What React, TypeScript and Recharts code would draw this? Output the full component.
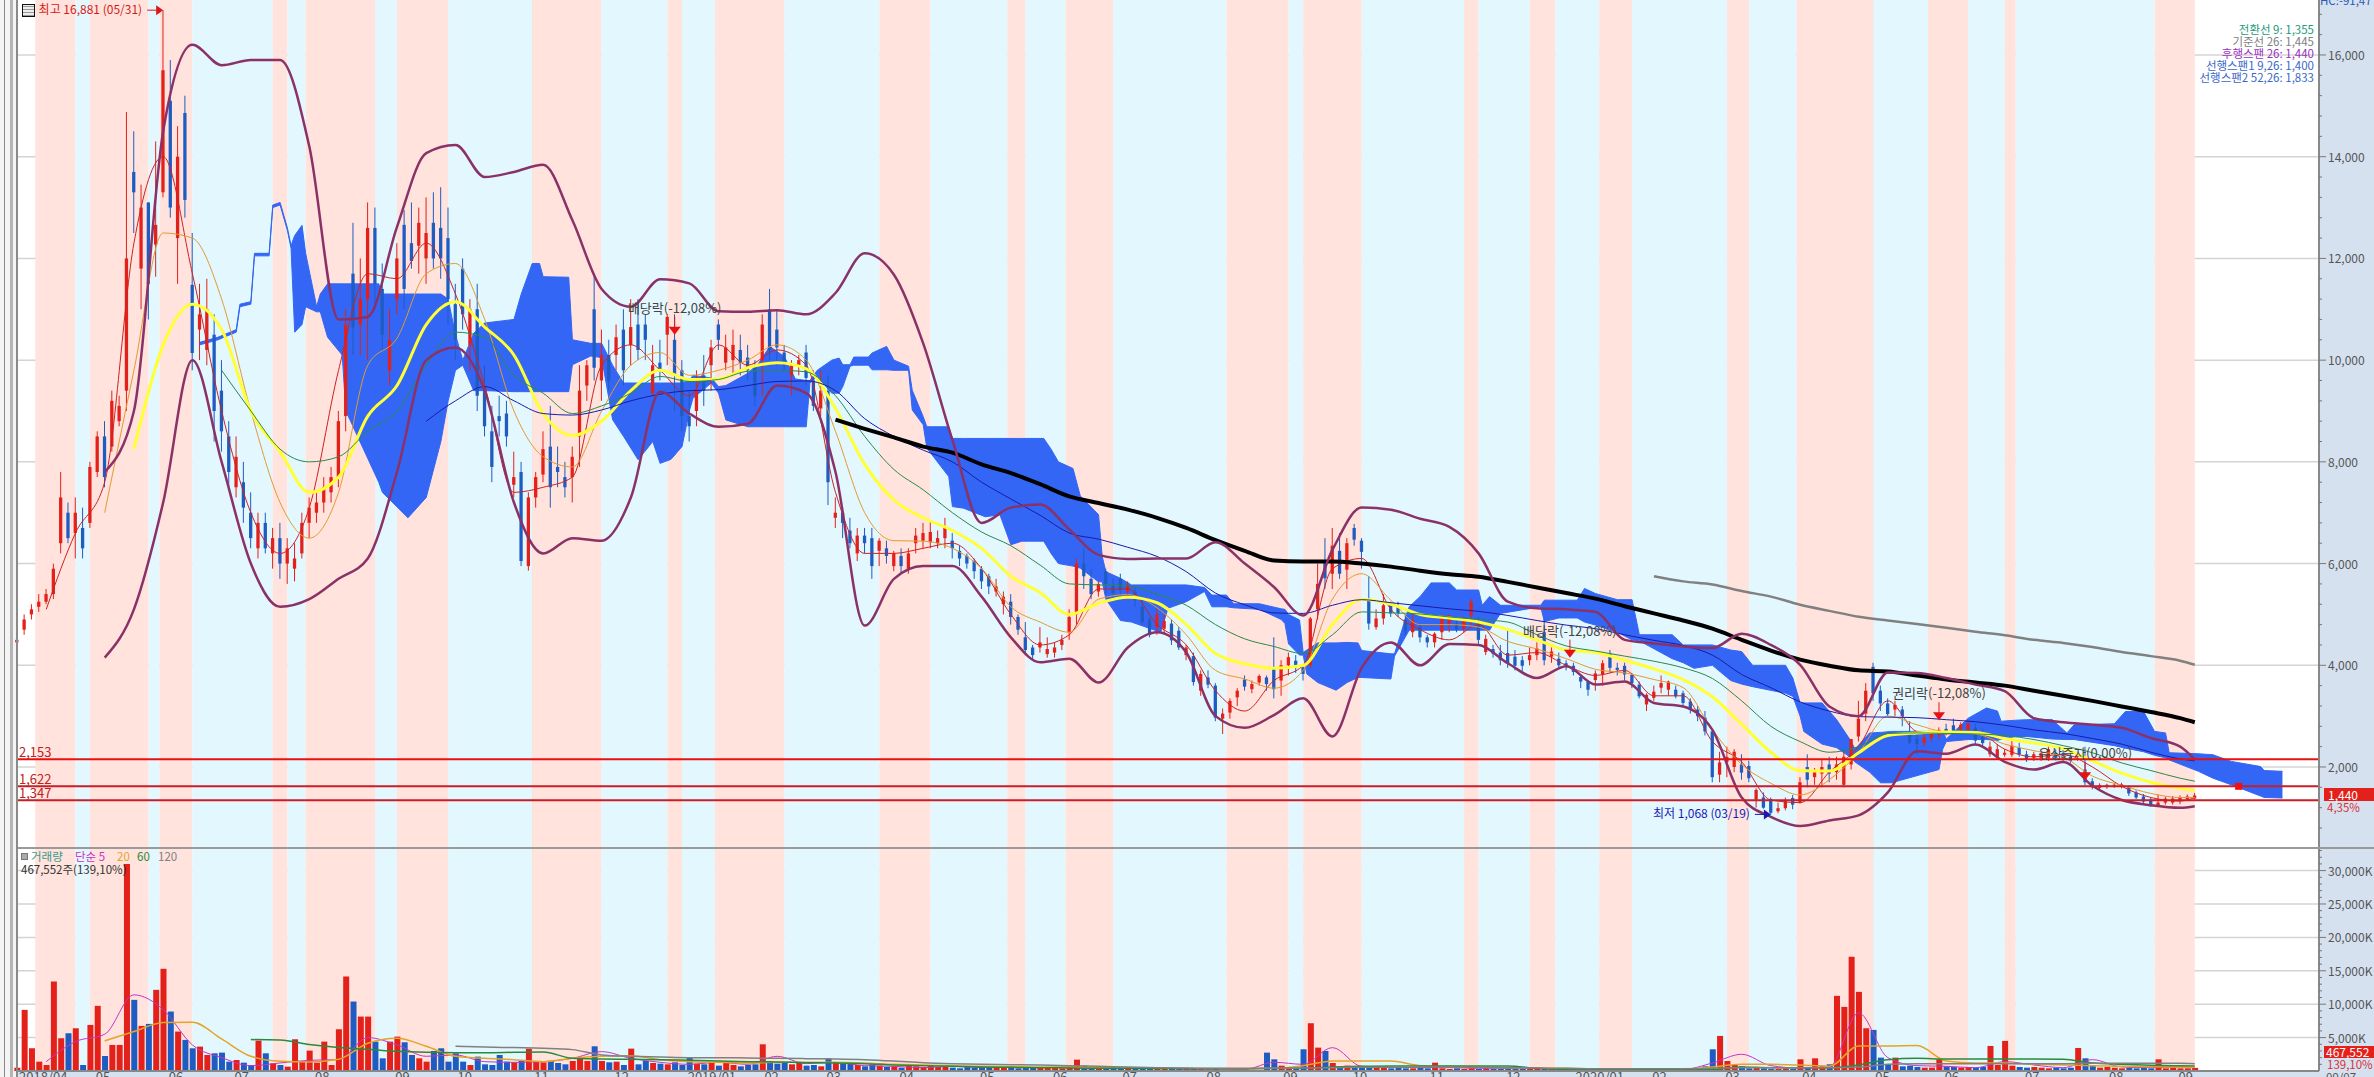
import {
  Area,
  Bar,
  CartesianGrid,
  Cell,
  ComposedChart,
  Line,
  ReferenceArea,
  ReferenceDot,
  ReferenceLine,
  XAxis,
  YAxis,
} from "recharts";

const n = null;

// trading days per month label
const monthDays = [0, 21, 41, 59, 81, 103, 120, 141, 163, 183, 204, 221, 241, 263, 283, 302, 325, 346, 365, 386, 407, 426, 447, 467, 488, 508, 527, 549, 572, 591];
const monthLabels = ["2018/04", "05", "06", "07", "08", "09", "10", "11", "12", "2019/01", "02", "03", "04", "05", "06", "07", "08", "09", "10", "11", "12", "2020/01", "02", "03", "04", "05", "06", "07", "08", "09"];

// red / blue phases, alternating, starts with red
const bandEdges = [5, 16, 20, 36, 39, 48, 70, 74, 79, 98, 104, 118, 141, 160, 178, 182, 191, 210, 236, 250, 271, 276, 287, 300, 331, 348, 352, 368, 396, 400, 414, 421, 433, 442, 468, 474, 487, 508, 523, 534, 544, 547, 585, 596];

// open, high, low, close, one row every 2 trading days
const candles = [
  [4450, 4700, 4200, 4500], [4700, 5000, 4600, 4900], [5000, 5200, 4900, 5100], [5150, 5400, 5050, 5250], [5250, 5500, 5200, 5400], [5400, 6000, 5300, 5900], [6400, 7800, 6200, 7300], [7000, 7200, 6400, 6500], [6600, 7300, 6100, 7000], [6700, 7100, 6100, 6300],
  [6800, 8000, 6700, 7900], [7800, 8600, 7700, 8500], [8500, 8800, 7500, 7700], [8300, 9400, 8200, 9200], [8800, 9300, 8700, 9100], [9400, 14880, 9000, 12000], [13700, 14500, 12500, 13300], [11800, 13450, 11000, 13000], [13100, 13100, 10800, 11500], [12270, 14300, 11640, 12660],
  [13300, 16881, 13200, 15700], [15100, 15900, 12800, 13000], [12400, 14600, 11500, 14000], [14860, 15200, 12800, 13150], [11480, 12500, 9800, 10140], [10600, 11500, 10000, 10900], [10200, 11600, 9900, 11000], [10500, 10900, 8400, 9000], [9400, 10000, 8200, 8600], [8500, 8800, 7500, 7800],
  [7500, 8500, 7300, 8100], [7600, 8000, 6800, 7100], [7000, 7400, 6300, 6500], [6300, 7000, 6100, 6800], [6800, 7000, 6200, 6300], [6200, 6700, 5900, 6500], [6500, 6800, 5700, 6000], [6000, 6500, 5600, 6300], [5900, 6400, 5650, 6100], [6200, 7000, 6100, 6800],
  [6800, 7300, 6500, 7100], [7000, 7400, 6800, 7200], [7200, 7700, 7000, 7500], [7400, 7900, 7200, 7700], [7700, 9000, 7500, 8800], [8900, 11000, 8600, 10700], [11700, 12700, 10100, 10650], [10700, 12000, 10100, 11200], [11200, 13100, 10000, 12600], [12600, 13000, 11000, 11500],
  [11400, 11900, 10200, 10500], [9800, 11000, 9500, 10400], [11200, 12300, 10900, 12000], [12660, 12950, 11000, 11400], [12300, 13100, 11800, 11950], [12250, 13000, 11700, 12700], [12000, 13200, 11500, 12500], [12700, 13300, 11800, 12000], [12600, 13400, 11600, 12000], [12400, 13000, 10700, 11200],
  [11100, 11500, 10000, 10400], [11800, 12000, 10600, 10900], [10300, 11200, 9800, 11000], [11000, 11500, 9000, 9300], [9400, 9900, 8500, 8700], [8600, 9100, 7600, 7900], [8900, 9300, 8500, 8800], [8950, 9200, 8300, 8500], [7550, 8200, 7300, 7700], [7800, 8000, 5950, 6050],
  [5950, 7400, 5860, 7300], [7300, 7800, 7100, 7700], [7750, 8600, 7600, 8250], [8300, 9100, 7100, 7500], [7900, 8300, 7500, 7800], [7700, 8000, 7300, 7500], [7700, 8300, 7200, 8100], [8500, 9900, 7900, 9400], [9500, 10000, 9200, 9900], [11000, 11700, 9600, 9850],
  [9600, 10600, 9200, 10100], [10100, 10400, 9400, 9600], [10100, 10700, 9800, 10450], [10600, 11000, 9500, 9800], [10300, 11200, 9900, 10650], [10700, 11200, 10000, 10200], [10700, 10900, 10000, 10400], [9350, 10300, 9300, 9900], [9950, 10400, 9600, 9800], [10500, 10900, 9900, 10850],
  [10400, 10900, 9000, 9700], [9800, 10000, 8600, 8900], [8900, 9400, 8400, 8700], [9000, 9800, 8700, 9400], [9700, 10100, 9100, 9400], [9900, 10400, 9400, 10250], [10700, 10800, 10200, 10400], [9950, 10500, 9800, 10250], [10000, 10600, 9700, 10300], [10200, 10500, 9700, 9950],
  [10050, 10300, 9600, 9800], [9900, 10000, 9100, 9300], [10000, 10900, 9300, 10700], [11000, 11400, 10000, 10200], [10600, 11000, 9900, 10250], [10150, 10300, 9800, 9900], [9700, 10000, 9300, 9900], [9900, 10100, 9700, 10000], [10150, 10300, 9500, 9650], [9600, 9800, 9000, 9100],
  [9050, 9800, 8900, 9400], [9400, 9700, 7150, 7600], [6900, 7300, 6700, 7000], [7000, 7100, 6500, 6800], [6650, 6900, 6300, 6400], [6200, 6700, 6050, 6550], [6550, 6700, 6200, 6400], [6500, 6700, 5700, 5950], [6250, 6500, 5950, 6450], [6300, 6450, 6000, 6150],
  [5950, 6250, 5850, 6200], [6150, 6300, 5800, 5950], [5900, 6300, 5800, 6200], [6400, 6700, 6200, 6550], [6450, 6800, 6300, 6600], [6420, 6850, 6300, 6620], [6400, 6650, 6300, 6500], [6500, 6900, 6300, 6700], [6450, 6600, 6100, 6300], [6250, 6350, 5950, 6100],
  [6150, 6200, 5900, 6000], [6050, 6100, 5700, 5850], [5900, 5950, 5500, 5650], [5750, 5800, 5400, 5550], [5450, 5700, 5350, 5550], [5200, 5450, 5000, 5350], [5250, 5400, 4800, 4950], [4950, 5000, 4600, 4700], [4550, 4850, 4200, 4300], [4350, 4400, 4100, 4200],
  [4350, 4750, 4250, 4450], [4220, 4550, 4150, 4320], [4250, 4450, 4150, 4350], [4400, 4600, 4300, 4500], [4650, 5100, 4500, 4950], [5000, 6100, 4800, 6000], [6000, 6300, 5500, 5750], [5700, 5900, 5300, 5400], [5450, 5650, 5350, 5600], [5850, 5900, 5400, 5600],
  [5580, 5700, 5300, 5420], [5700, 5800, 5400, 5480], [5450, 5650, 5350, 5570], [5450, 5550, 5150, 5280], [5150, 5350, 4800, 4850], [4900, 4950, 4550, 4600], [4750, 5100, 4600, 5000], [4720, 5000, 4600, 4870], [4820, 4900, 4400, 4490], [4680, 4750, 4300, 4350],
  [4200, 4400, 4100, 4350], [4180, 4250, 3600, 3670], [3500, 3900, 3400, 3830], [3760, 3900, 3550, 3620], [3600, 3650, 2900, 2970], [2950, 3150, 2650, 3050], [3070, 3350, 2950, 3300], [3370, 3550, 3200, 3500], [3720, 3800, 3500, 3580], [3530, 3700, 3450, 3630],
  [3660, 3820, 3600, 3790], [3760, 3800, 3500, 3630], [3950, 4550, 3350, 3530], [3700, 4100, 3400, 4000], [4000, 4250, 3800, 4160], [4090, 4200, 3850, 3960], [3960, 4000, 3700, 3830], [4000, 4950, 3950, 4920], [5100, 6000, 4900, 5600], [6040, 6500, 5500, 5710],
  [5800, 6700, 5500, 6350], [6250, 6600, 5700, 5800], [5880, 6500, 5500, 6400], [6700, 6780, 6350, 6470], [6450, 6500, 5900, 6230], [5300, 5750, 4700, 4820], [4750, 5100, 4700, 4920], [4920, 5400, 4800, 5180], [5200, 5250, 4950, 5020], [5150, 5250, 4950, 5020],
  [4900, 5000, 4600, 4680], [4650, 5000, 4550, 4880], [4750, 4800, 4450, 4550], [4550, 4600, 4350, 4450], [4450, 4650, 4350, 4620], [4650, 5000, 4500, 4950], [4820, 5000, 4650, 4980], [4820, 4900, 4650, 4700], [4720, 4950, 4650, 4880], [4980, 5300, 4800, 5250],
  [4820, 4950, 4400, 4500], [4260, 4600, 4200, 4520], [4320, 4400, 4150, 4230], [4250, 4400, 4000, 4100], [4240, 4700, 3950, 4040], [4170, 4300, 3900, 3990], [4100, 4180, 3880, 3990], [4100, 4350, 4000, 4200], [4200, 4450, 4100, 4330], [4650, 4900, 4000, 4100],
  [4170, 4350, 4050, 4270], [4130, 4250, 3950, 4000], [4040, 4100, 3900, 3970], [3990, 4050, 3800, 3870], [3770, 3800, 3550, 3680], [3680, 3700, 3400, 3520], [3710, 3900, 3500, 3840], [3820, 4100, 3600, 4040], [4230, 4300, 3850, 3950], [3950, 4050, 3800, 3910],
  [3990, 4050, 3700, 3820], [3810, 3850, 3550, 3650], [3620, 3680, 3350, 3390], [3230, 3450, 3100, 3420], [3360, 3600, 3300, 3480], [3560, 3800, 3450, 3650], [3520, 3700, 3400, 3680], [3520, 3600, 3350, 3390], [3450, 3500, 3200, 3260], [3290, 3350, 3050, 3130],
  [3130, 3200, 2900, 3000], [2970, 3100, 2620, 2700], [2700, 2720, 1700, 1800], [1850, 2300, 1700, 2090], [2100, 2400, 1800, 2200], [2000, 2350, 1900, 2300], [2050, 2250, 1750, 1890], [2020, 2120, 1700, 1780], [1360, 1580, 1200, 1550], [1400, 1500, 1180, 1200],
  [1370, 1400, 1068, 1100], [1130, 1300, 1090, 1190], [1190, 1400, 1150, 1330], [1390, 1450, 1170, 1260], [1300, 1800, 1280, 1700], [2000, 2250, 1600, 1750], [1800, 1980, 1650, 1900], [1870, 2150, 1600, 2000], [2050, 2200, 1700, 1870], [1900, 2200, 1750, 2050],
  [1650, 2300, 1600, 2200], [2050, 2550, 1950, 2550], [2600, 3300, 2500, 2950], [3050, 3650, 2900, 3500], [3970, 4050, 3300, 3450], [3500, 3600, 3100, 3250], [3250, 3350, 3000, 3040], [3130, 3300, 3000, 3220], [3130, 3200, 2800, 3000], [2700, 2900, 2450, 2480],
  [2550, 2700, 2250, 2450], [2470, 2650, 2400, 2580], [2570, 2700, 2500, 2670], [2640, 2780, 2550, 2730], [2750, 2850, 2620, 2650], [2820, 2950, 2650, 2700], [2740, 2880, 2700, 2830], [2730, 2900, 2650, 2860], [2770, 2850, 2450, 2520], [2600, 2750, 2400, 2470],
  [2250, 2500, 2200, 2400], [2200, 2450, 2150, 2350], [2240, 2350, 2200, 2280], [2240, 2520, 2200, 2420], [2380, 2480, 2200, 2250], [2250, 2320, 2100, 2150], [2180, 2300, 2120, 2250], [2180, 2300, 2120, 2270], [2180, 2420, 2120, 2350], [2280, 2350, 2130, 2180],
  [2270, 2350, 2100, 2170], [2200, 2300, 2080, 2120], [2200, 2260, 2120, 2230], [1950, 2400, 1640, 1700], [1720, 1780, 1560, 1600], [1590, 1680, 1550, 1640], [1620, 1670, 1570, 1650], [1630, 1680, 1590, 1650], [1620, 1690, 1580, 1660], [1600, 1640, 1430, 1480],
  [1500, 1540, 1370, 1400], [1420, 1470, 1270, 1320], [1360, 1400, 1220, 1230], [1250, 1460, 1220, 1300], [1300, 1420, 1260, 1380], [1300, 1430, 1260, 1380], [1330, 1440, 1270, 1400], [1370, 1460, 1330, 1420], [1380, 1490, 1360, 1440],
];

// volume in thousands of shares, same rows as candles
const volumes = [
  500, 9150, 3400, 1400, 900, 13400, 4900, 5650, 6400, 900,
  6900, 9750, 2250, 3900, 3900, 31000, 10650, 6750, 7050, 12150,
  15300, 8900, 5900, 4650, 3400, 3650, 2400, 2650, 2750, 1400,
  1650, 1250, 900, 4550, 2650, 1150, 900, 650, 4750, 1500,
  3050, 1250, 4400, 900, 6250, 14150, 10400, 8150, 8150, 4400,
  1900, 4400, 5150, 4300, 2400, 1900, 1400, 3000, 3400, 1400,
  2650, 1400, 900, 2150, 1000, 900, 2400, 1400, 1300, 1500,
  3350, 1400, 1300, 1500, 1200, 1000, 1500, 1800, 1500, 3700,
  1500, 1300, 1400, 900, 3350, 1000, 1500, 1200, 1100, 1000,
  1300, 900, 2100, 1100, 1000, 1200, 800, 1300, 900, 700,
  900, 1000, 4000, 1500, 1100, 1200, 1000, 1300, 800, 900,
  700, 1900, 1300, 1100, 1100, 900, 700, 1000, 800, 600,
  700, 500, 900, 700, 600, 800, 600, 900, 500, 400,
  600, 500, 700, 500, 600, 700, 500, 400, 500, 600,
  500, 500, 600, 400, 600, 1700, 800, 600, 500, 400,
  500, 400, 600, 500, 500, 400, 500, 400, 300, 400,
  300, 400, 300, 250, 300, 200, 200, 200, 200, 150,
  150, 2750, 1750, 800, 500, 500, 3250, 7150, 3500, 3000,
  1200, 700, 800, 600, 500, 600, 500, 500, 400, 500,
  400, 400, 500, 400, 1250, 400, 300, 400, 300, 400,
  300, 400, 300, 300, 400, 300, 300, 400, 300, 300,
  300, 300, 250, 300, 250, 300, 250, 300, 250, 250,
  250, 300, 250, 300, 250, 250, 250, 300, 250, 250,
  250, 700, 3250, 5250, 1500, 900, 700, 400, 500, 400,
  300, 300, 400, 300, 1750, 500, 1900, 800, 1000, 11250,
  9600, 17100, 11850, 6400, 6150, 2000, 1000, 2000, 700, 800,
  600, 500, 500, 1750, 700, 600, 500, 600, 500, 600,
  3750, 900, 4500, 800, 600, 500, 600, 500, 400, 500,
  400, 500, 3450, 1900, 900, 500, 600, 500, 400, 500,
  400, 500, 400, 1750, 400, 500, 400, 400, 467,
];

// overlays, one value every 8 trading days (last one is day 596)
const ma5 = [n, 5100, 6600, 7600, 12300, 14000, 11700, 9000, 7000, 6200, 7100, 9800, 11700, 11600, 12300, 11300, 9500, 7400, 7500, 7700, 9900, 10300, 9800, 9300, 10300, 9900, 10200, 9900, 7400, 6200, 6200, 6300, 6400, 5900, 5000, 4400, 4600, 5500, 5500, 4800, 4400, 3500, 3100, 3700, 4000, 5900, 6100, 5100, 4700, 4500, 4800, 4200, 4250, 4000, 3800, 3900, 3400, 3400, 2500, 2100, 1350, 1300, 1900, 2400, 3300, 2700, 2650, 2700, 2350, 2200, 2250, 2000, 1620, 1400, 1330, 1400];
const ma10 = [n, n, n, 7000, 9800, 12500, 12400, 11200, 9000, 7200, 6500, 7400, 9900, 10430, 11700, 11900, 10800, 9000, 8100, 7900, 9000, 9900, 10150, 9700, 9800, 10000, 10300, 10000, 8600, 7000, 6450, 6440, 6300, 5900, 5150, 4850, 4650, 5300, 5390, 5130, 4600, 3900, 3730, 3550, 3900, 5300, 5800, 5280, 4800, 4800, 4750, 4470, 4320, 4130, 3920, 3850, 3720, 3560, 2730, 2050, 1680, 1450, 1750, 2280, 3000, 2830, 2680, 2650, 2450, 2320, 2200, 1820, 1640, 1480, 1400, 1400];
const ma20 = [n, n, n, n, 8250, 10300, 11100, 10600, 9000, 8200, 7400, 7700, 8900, 9500, 10700, 11150, 10650, 10100, 8950, 8520, 8800, 9400, 9800, 9620, 9630, 9850, 9950, 9830, 9050, 7950, 7250, 6900, 6650, 6300, 5750, 5430, 5000, 5220, 5340, 5230, 4800, 4230, 4030, 3940, 4000, 4800, 5300, 5200, 5000, 4930, 4850, 4700, 4500, 4300, 4250, 4100, 3930, 3720, 3380, 2840, 2290, 1930, 1920, 2280, 2620, 2670, 2690, 2680, 2560, 2470, 2360, 2120, 1880, 1700, 1580, 1540];
const ma60 = [n, n, n, n, n, n, n, 9800, 9000, 8250, 8000, 8100, 8600, 9000, 9900, 10550, 10450, 9700, 9350, 8950, 9100, 9350, 9680, 9580, 9620, 9780, 9800, 9770, 9300, 8500, 7850, 7450, 7000, 6620, 6350, 5970, 5600, 5580, 5560, 5400, 5180, 4800, 4520, 4370, 4230, 4600, 5050, 5030, 5010, 4950, 4900, 4850, 4600, 4380, 4280, 4180, 4080, 3950, 3740, 3300, 2800, 2500, 2290, 2400, 2660, 2670, 2660, 2650, 2620, 2540, 2420, 2280, 2080, 1930, 1780, 1720];
const ma120 = [n, n, n, n, n, n, n, n, n, n, n, n, n, n, 8800, 9200, 9480, 9200, 8950, 8920, 9020, 9200, 9330, 9400, 9420, 9500, 9580, 9590, 9400, 8850, 8500, 8230, 8000, 7600, 7270, 6950, 6600, 6480, 6320, 6140, 5840, 5420, 5190, 5030, 5020, 5180, 5290, 5230, 5170, 5110, 5060, 4980, 4880, 4790, 4720, 4600, 4490, 4390, 4200, 3820, 3560, 3280, 3100, 2990, 2980, 2970, 2930, 2890, 2820, 2730, 2660, 2560, 2450, 2290, 2160, 2120];
const ma240 = [n, n, n, n, n, n, n, n, n, n, n, n, n, n, n, n, n, n, n, n, n, n, n, n, n, n, n, n, 8830, 8650, 8480, 8300, 8180, 7950, 7780, 7560, 7320, 7190, 7060, 6900, 6700, 6460, 6250, 6060, 6040, 6040, 6000, 5940, 5860, 5790, 5740, 5640, 5530, 5420, 5310, 5160, 5020, 4880, 4720, 4500, 4290, 4110, 3990, 3900, 3880, 3800, 3720, 3660, 3600, 3500, 3400, 3300, 3190, 3080, 2960, 2880];
const ma480 = [n, n, n, n, n, n, n, n, n, n, n, n, n, n, n, n, n, n, n, n, n, n, n, n, n, n, n, n, n, n, n, n, n, n, n, n, n, n, n, n, n, n, n, n, n, n, n, n, n, n, n, n, n, n, n, n, 5750, 5650, 5590, 5460, 5350, 5190, 5070, 4955, 4880, 4810, 4740, 4660, 4590, 4500, 4440, 4360, 4260, 4180, 4090, 4010];
const bollUpper = [n, n, n, 7800, 9000, 14500, 16200, 15800, 15900, 15900, 14200, 10800, 10850, 12620, 14070, 14230, 13600, 13700, 13840, 12750, 11400, 11050, 11590, 11510, 10960, 10950, 10980, 10900, 11320, 12100, 11680, 10330, 8430, 6800, 7100, 7160, 6670, 6170, 6090, 6100, 6100, 6420, 6000, 5540, 4980, 6270, 7100, 7060, 6880, 6720, 6200, 5250, 5120, 5100, 5050, 4500, 4430, 4370, 4340, 4620, 4400, 4010, 3190, 3000, 3860, 3850, 3750, 3620, 3490, 2960, 2880, 2830, 2770, 2570, 2400, 2150];
const bollLower = [n, n, n, 4150, 5100, 7200, 10000, 8000, 6000, 5150, 5300, 5700, 6100, 7800, 10000, 10250, 9400, 7200, 6200, 6500, 6450, 7300, 9380, 8950, 8690, 8750, 9500, 9350, 7800, 4780, 5700, 5950, 5950, 5350, 4550, 4060, 4130, 3660, 4350, 4650, 4250, 3000, 2770, 3020, 3350, 2600, 3950, 4450, 4000, 4420, 4400, 4040, 3750, 3980, 3620, 3680, 3260, 3190, 2730, 1400, 1020, 840, 950, 1050, 1500, 2310, 2260, 2440, 2100, 1950, 2100, 1630, 1350, 1250, 1200, 1230];

// ichimoku cloud corners: day, upper edge, lower edge
const cloud = [
  [50, 10350, 10300], [55, 10450, 10400], [60, 10600, 10550], [61, 11100, 11050], [64, 11150, 11100], [65, 12100, 12050], [69, 12100, 12050], [70, 13050, 13000], [72, 13100, 13050], [74, 12600, 12550], [75, 12250, 12200], [76, 12450, 10550], [78, 12650, 10700], [79, 12100, 11050], [82, 11050, 10950], [83, 11300, 10950], [85, 11500, 10450], [89, 11500, 10100], [90, 11500, 9000], [99, 11500, 7600], [100, 11300, 7400], [107, 11300, 6900], [112, 11300, 7300], [116, 11300, 8400], [118, 11200, 9200], [120, 10500, 9800], [122, 10000, 9900],
  [125, 10530, 9400], [128, 10730, 9400], [136, 10800, 9380], [138, 11300, 9380], [141, 11900, 9380], [143, 11900, 9380], [144, 11640, 9380], [151, 11630, 9380], [152, 10400, 9910], [157, 10330, 10080], [160, 10330, 10050], [163, 9900, 8830], [166, 9550, 8500], [170, 9550, 8040], [174, 9550, 8400], [176, 9550, 7970], [179, 9550, 8050], [182, 9550, 8300], [184, 9600, 9000], [185, 9700, 9250], [190, 9650, 9550], [192, 9480, 9350], [194, 9500, 8825], [200, 9740, 8690], [203, 9940, 8690], [206, 10270, 8690], [210, 10070, 8690], [213, 9630, 8690], [216, 9600, 8690],
  [217, 9600, 9550], [219, 9800, 9680], [223, 10000, 9350], [225, 10040, 9350], [226, 9910, 9480], [228, 9910, 9880], [229, 10060, 9900], [233, 10060, 9900], [234, 10140, 9810], [238, 10270, 9810], [240, 10000, 9800], [244, 9880, 9800], [245, 9410, 9020], [248, 8890, 8730], [249, 8690, 8270], [255, 8690, 7710], [256, 8460, 7120], [259, 8460, 7090], [265, 8460, 6920], [269, 8460, 6960], [272, 8460, 6370], [275, 8460, 6440], [281, 8460, 6440], [283, 8250, 6200], [285, 8000, 6000], [289, 7870, 5950], [291, 7330, 5910], [296, 6960, 5640], [297, 6140, 5640],
  [298, 5840, 5300], [302, 5710, 4880], [305, 5580, 4850], [309, 5580, 4750], [313, 5580, 4650], [315, 5580, 5120], [320, 5580, 5250], [325, 5530, 5450], [327, 5380, 5150], [331, 5380, 5150], [333, 5210, 5130], [340, 5210, 5100], [346, 5110, 4900], [347, 5100, 4820], [348, 5000, 4420], [351, 4890, 4200], [352, 4250, 4200], [353, 4300, 3830], [356, 4440, 3660], [361, 4440, 3510], [364, 4450, 3660], [367, 4440, 3760], [368, 4290, 3760], [376, 4225, 3730], [377, 4225, 4180],
  [381, 5150, 4690], [384, 5350, 4690], [387, 5620, 4690], [392, 5620, 4690], [394, 5480, 4690], [400, 5480, 4690], [401, 5180, 4690], [403, 5350, 4690], [406, 5180, 5020], [417, 5180, 5150], [418, 5280, 4860], [422, 5280, 4930], [427, 5280, 4930], [429, 5510, 4850], [432, 5410, 4790], [438, 5290, 4650], [442, 5290, 4500], [444, 4600, 4480], [453, 4600, 4130], [456, 4400, 4050], [459, 4400, 3940], [464, 4400, 4000], [469, 4300, 3700], [472, 4270, 3630], [475, 4000, 3580], [484, 4000, 3450], [486, 3750, 3390], [488, 3260, 3000], [489, 3260, 2700], [494, 3260, 2450], [498, 2930, 2380], [502, 2500, 2180], [503, 2350, 2100],
  [507, 2670, 1900], [510, 2680, 1690], [513, 2700, 1690], [526, 2700, 1950], [527, 2700, 2350], [528, 2550, 2500], [534, 2960, 2540], [539, 3160, 2540], [542, 3100, 2520], [543, 2900, 2550], [547, 2920, 2600], [550, 2930, 2600], [557, 2930, 2550], [561, 2670, 2540], [563, 2830, 2540], [574, 2850, 2420], [577, 3090, 2370], [582, 3090, 2300], [585, 2700, 2230], [588, 2670, 2180], [589, 2280, 2140], [597, 2260, 1915], [601, 2240, 1780], [606, 2110, 1650], [614, 2010, 1430], [615, 1930, 1400], [620, 1915, 1390],
];

const volMa5 = [n, 1400, 4400, 5500, 11400, 9200, 3900, 2000, 800, 1200, 1600, 1700, 5000, 3900, 2200, 2400, 1400, 1300, 1400, 1900, 2900, 1900, 1300, 1000, 1300, 1000, 2200, 1100, 1300, 800, 700, 500, 700, 500, 600, 500, 600, 500, 400, 400, 300, 300, 250, 1300, 1000, 3500, 700, 600, 500, 500, 400, 400, 350, 300, 300, 350, 300, 250, 1200, 2500, 800, 450, 600, 8700, 2000, 800, 700, 500, 1400, 900, 500, 1700, 600, 500, 600, 450];
const volMa20 = [n, n, n, 4500, 5900, 7250, 7300, 4800, 2200, 1450, 1350, 1750, 4150, 4900, 3700, 2200, 1900, 1700, 1400, 1900, 2200, 2300, 1700, 1400, 1300, 1200, 1300, 1300, 1300, 1200, 1000, 900, 800, 700, 650, 600, 600, 550, 500, 450, 400, 380, 350, 400, 800, 1500, 1500, 1500, 800, 700, 600, 500, 450, 400, 350, 350, 350, 300, 600, 1000, 1000, 900, 700, 3750, 3750, 3800, 1500, 1200, 1200, 1000, 900, 800, 700, 650, 600, 550];
const volMa60 = [n, n, n, n, n, n, n, n, 4700, 4650, 3950, 3500, 3250, 2950, 2800, 2750, 2750, 2800, 2850, 1900, 1800, 1750, 1700, 1600, 1500, 1400, 1350, 1250, 1200, 1100, 900, 800, 700, 600, 550, 500, 450, 400, 400, 380, 350, 350, 350, 400, 450, 600, 700, 750, 750, 750, 750, 750, 400, 250, 250, 250, 250, 250, 250, 600, 500, 500, 500, 900, 1700, 1900, 1800, 1800, 1800, 1800, 1750, 1200, 1000, 850, 780, 750];
const volMa120 = [n, n, n, n, n, n, n, n, n, n, n, n, n, n, n, 3700, 3600, 3500, 3400, 3200, 2400, 2200, 2100, 2000, 2000, 1950, 1900, 1850, 1800, 1700, 1500, 1250, 1100, 1000, 950, 900, 800, 700, 600, 500, 450, 400, 400, 400, 450, 500, 550, 550, 600, 600, 550, 500, 450, 400, 350, 350, 350, 350, 400, 500, 500, 500, 500, 600, 1000, 1100, 1100, 1100, 1100, 1100, 1100, 1150, 1150, 1150, 1150, 1100];

const priceGuides = [2153, 1622, 1347];
const priceTicks = [800, 1200, 1600, 2000, 2400, 2800, 3200, 3600, 4000, 4400, 4800, 5200, 5600, 6000, 6400, 6800, 7200, 7600, 8000, 8400, 8800, 9200, 9600, 10000, 10400, 10800, 11200, 11600, 12000, 12400, 12800, 13200, 13600, 14000, 14400, 14800, 15200, 15600, 16000, 16400, 16800];
const priceMajor = [2000, 4000, 6000, 8000, 10000, 12000, 14000, 16000];
const volTicks = [1000, 2000, 3000, 4000, 5000, 6000, 7000, 8000, 9000, 10000, 11000, 12000, 13000, 14000, 15000, 16000, 17000, 18000, 19000, 20000, 21000, 22000, 23000, 24000, 25000, 26000, 27000, 28000, 29000, 30000, 31000, 32000, 33000];
const volMajor = [5000, 10000, 15000, 20000, 25000, 30000];

const font = '"Noto Sans CJK KR", sans-serif';
const RED = "#e3201a";
const BLUE = "#1f5cc2";
const sampleDay = (j: number) => Math.min(j * 8, 596);

function buildPriceRows() {
  const rows = new Map<number, any>();
  const at = (day: number) => {
    if (!rows.has(day)) rows.set(day, { day });
    return rows.get(day);
  };
  candles.forEach(([o, h, l, c], i) => {
    Object.assign(at(i * 2), { open: o, close: c, range: [l, h] });
  });
  const overlays: Record<string, (number | null)[]> = { ma5, ma10, ma20, ma60, ma120, ma240, ma480, bollUpper, bollLower };
  Object.entries(overlays).forEach(([key, list]) => {
    list.forEach((v, j) => {
      if (v !== null) at(sampleDay(j))[key] = v;
    });
  });
  cloud.forEach(([d, hi, lo]) => {
    at(d).cloud = [lo, hi];
  });
  return [...rows.values()].sort((a, b) => a.day - b.day);
}

function buildVolumeRows() {
  const rows = candles.map(([o, , , c], i) => ({ day: i * 2, vol: volumes[i], up: c >= o })) as any[];
  const overlays: Record<string, (number | null)[]> = { volMa5, volMa20, volMa60, volMa120 };
  Object.entries(overlays).forEach(([key, list]) => {
    list.forEach((v, j) => {
      if (v !== null) rows[sampleDay(j) / 2][key] = v;
    });
  });
  return rows;
}

const priceRows = buildPriceRows();
const volumeRows = buildVolumeRows();

function Candle(props: any) {
  const { x, y, width, height, payload } = props;
  if (!payload || !payload.range) return null;
  const [low, high] = payload.range;
  const perUnit = height / (high - low || 1);
  const top = y + (high - Math.max(payload.open, payload.close)) * perUnit;
  const bodyH = Math.max(1, Math.abs(payload.open - payload.close) * perUnit);
  const color = payload.close >= payload.open ? RED : BLUE;
  const mid = x + width / 2;
  return (
    <g>
      <line x1={mid} x2={mid} y1={y} y2={y + height} stroke={color} strokeWidth={1} />
      <rect x={x} y={top} width={width} height={bodyH} fill={color} />
    </g>
  );
}

function ValueTick(props: any) {
  const { x, y, payload, major, suffix } = props;
  const isMajor = major.includes(payload.value);
  return (
    <g>
      <line x1={x} x2={x + (isMajor ? 7 : 3)} y1={y} y2={y} stroke="#777" />
      {isMajor && (
        <text x={x + 9} y={y + 5} fontSize={12} fill="#555" fontFamily={font}>
          {payload.value.toLocaleString("en-US")}
          {suffix}
        </text>
      )}
    </g>
  );
}

function MonthTick(props: any) {
  const { x, y, payload } = props;
  return (
    <text x={x + 2} y={y + 11} fontSize={13} fill="#555" fontFamily={font}>
      {monthLabels[monthDays.indexOf(payload.value)]}
    </text>
  );
}

function Flag(props: any) {
  const { cx, cy, text } = props;
  return (
    <g fontFamily={font}>
      <line x1={cx} x2={cx} y1={cy - 18} y2={cy - 6} stroke="#e01818" />
      <path d={`M${cx - 6} ${cy - 8}L${cx + 6} ${cy - 8}L${cx} ${cy}Z`} fill="#e81010" />
      <text x={cx} y={cy - 22} fontSize={13} textAnchor="middle" fill="#444">
        {text}
      </text>
    </g>
  );
}

function PointerLabel(props: any) {
  const { cx, cy, text, color } = props;
  return (
    <g fontFamily={font}>
      <text x={cx - 21} y={cy + 4} fontSize={12} textAnchor="end" fill={color}>
        {text}
      </text>
      <line x1={cx - 16} x2={cx - 4} y1={cy} y2={cy} stroke={color} />
      <path d={`M${cx - 7} ${cy - 5}L${cx} ${cy}L${cx - 7} ${cy + 5}Z`} fill={color} />
    </g>
  );
}

const dailyBands = bandEdges.slice(0, -1).map((from, i) => ({ from, to: bandEdges[i + 1], fill: i % 2 === 0 ? "#ffe3dc" : "#e3f7fe" }));

function overlayLine(key: string, stroke: string, width: number) {
  return <Line key={key} dataKey={key} stroke={stroke} strokeWidth={width} dot={false} connectNulls type="monotone" isAnimationActive={false} />;
}

const legendRows = [
  ["전환선 9: 1,355", "#1d9a78"],
  ["기준선 26: 1,445", "#808080"],
  ["후행스팬 26: 1,440", "#9a32c0"],
  ["선행스팬1 9,26: 1,400", "#3a68c8"],
  ["선행스팬2 52,26: 1,833", "#3a68c8"],
];

const fixedText = (left: number, top: number, text: string, color: string, extra = {}) => (
  <div style={{ position: "absolute", left, top, color, fontSize: 11.5, lineHeight: "12px", whiteSpace: "nowrap", ...extra }}>{text}</div>
);

export default function App() {
  return (
    <div style={{ position: "absolute", left: 0, top: 0, width: 2374, height: 1077, overflow: "hidden", background: "#fff", fontFamily: font }}>
      <div style={{ position: "absolute", left: 0, top: 0, width: 17, height: 1077, background: "#f4f4f4" }} />
      <div style={{ position: "absolute", left: 4, top: 0, width: 1, height: 1077, background: "#8a8a8a" }} />
      <div style={{ position: "absolute", left: 10, top: 0, width: 3, height: 1077, background: "#b4b4b4" }} />
      <div style={{ position: "absolute", left: 2319, top: 0, width: 55, height: 1077, background: "#d6e1f0" }} />
      <div style={{ position: "absolute", left: 17, top: 1071, width: 2357, height: 6, background: "#d6e1f0" }} />

      <div style={{ position: "absolute", left: 0, top: 0 }}>
        <ComposedChart width={2374} height={847} data={priceRows} margin={{ top: 0, right: 0, bottom: 0, left: 17 }}>
          {dailyBands.map((b) => (
            <ReferenceArea key={b.from} x1={b.from} x2={b.to} fill={b.fill} fillOpacity={1} stroke="none" />
          ))}
          <CartesianGrid stroke="#d4d4d4" strokeWidth={1.5} horizontalValues={priceMajor} verticalValues={monthDays.slice(1)} />
          <XAxis dataKey="day" type="number" scale="linear" domain={[0, 630]} hide />
          <YAxis
            orientation="right"
            width={55}
            domain={[427, 17081]}
            ticks={priceTicks}
            interval={0}
            tickLine={false}
            tickSize={0}
            tickMargin={0}
            axisLine={{ stroke: "#888", strokeWidth: 2 }}
            tick={<ValueTick major={priceMajor} suffix="" />}
          />
          <Area dataKey="cloud" type="linear" connectNulls stroke="#3366f5" strokeWidth={1} fill="#3366f5" fillOpacity={1} dot={false} activeDot={false} isAnimationActive={false} />
          <Bar dataKey="range" barSize={5} shape={<Candle />} isAnimationActive={false} />
          {overlayLine("ma5", "#cc2222", 1)}
          {overlayLine("ma10", "#e39a30", 1)}
          {overlayLine("ma20", "#ffff33", 3)}
          {overlayLine("ma60", "#2a8a4a", 1)}
          {overlayLine("ma120", "#1a1aaa", 1)}
          {overlayLine("ma240", "#000000", 4)}
          {overlayLine("ma480", "#808080", 2.5)}
          {overlayLine("bollUpper", "#8a3268", 2.5)}
          {overlayLine("bollLower", "#8a3268", 2.5)}
          {priceGuides.map((p, i) => (
            <ReferenceLine
              key={p}
              y={p}
              stroke={i === 0 ? "#e81010" : "#c81e28"}
              strokeWidth={2}
              label={{ value: p.toLocaleString("en-US"), position: "insideBottomLeft", offset: 2, fontSize: 13, fill: "#c02020", fontFamily: font }}
            />
          ))}
          <ReferenceDot x={40} y={16881} r={0} shape={<PointerLabel text="최고 16,881 (05/31)" color="#d81818" />} />
          <ReferenceDot x={480} y={1068} r={0} shape={<PointerLabel text="최저 1,068 (03/19)" color="#1818b8" />} />
          <ReferenceDot x={180} y={10500} r={0} shape={<Flag text="배당락(-12,08%)" />} />
          <ReferenceDot x={425} y={4150} r={0} shape={<Flag text="배당락(-12,08%)" />} />
          <ReferenceDot x={526} y={2920} r={0} shape={<Flag text="권리락(-12,08%)" />} />
          <ReferenceDot x={566} y={1740} r={0} shape={<Flag text="유상증자(0,00%)" />} />
          <ReferenceDot x={608} y={1620} r={0} shape={(p: any) => <rect x={p.cx - 3.5} y={p.cy - 3.5} width={7} height={7} fill="#f01010" />} />
        </ComposedChart>
      </div>

      <div style={{ position: "absolute", left: 0, top: 848 }}>
        <ComposedChart width={2374} height={229} data={volumeRows} margin={{ top: 0, right: 0, bottom: 0, left: 17 }}>
          {dailyBands.map((b) => (
            <ReferenceArea key={b.from} x1={b.from} x2={b.to} fill={b.fill} fillOpacity={1} stroke="none" />
          ))}
          <CartesianGrid stroke="#d4d4d4" strokeWidth={1.5} horizontalValues={volMajor} verticalValues={monthDays.slice(1)} />
          <XAxis
            dataKey="day"
            type="number"
            scale="linear"
            domain={[0, 630]}
            ticks={monthDays}
            interval={0}
            height={6}
            tickLine={false}
            tickSize={0}
            tickMargin={0}
            axisLine={{ stroke: "#888", strokeWidth: 2 }}
            tick={<MonthTick />}
          />
          <YAxis
            orientation="right"
            width={55}
            domain={[0, 33383]}
            ticks={volTicks}
            interval={0}
            tickLine={false}
            tickSize={0}
            tickMargin={0}
            axisLine={{ stroke: "#888", strokeWidth: 2 }}
            tick={<ValueTick major={volMajor} suffix="K" />}
          />
          <Bar dataKey="vol" barSize={6} isAnimationActive={false}>
            {volumeRows.map((r) => (
              <Cell key={r.day} fill={r.up ? RED : BLUE} />
            ))}
          </Bar>
          {overlayLine("volMa5", "#c832c8", 1)}
          {overlayLine("volMa20", "#e3a428", 1.5)}
          {overlayLine("volMa60", "#2a8a3a", 1.5)}
          {overlayLine("volMa120", "#808080", 1.5)}
        </ComposedChart>
      </div>

      <div style={{ position: "absolute", left: 17, top: 847, width: 2357, height: 2, background: "#9a9a9a" }} />
      <div style={{ position: "absolute", left: 16, top: 0, width: 2, height: 1077, background: "#8a8a8a" }} />

      {/* table icon, top left */}
      <div style={{ position: "absolute", left: 22, top: 4, width: 11, height: 11, border: "1px solid #111", background: "repeating-linear-gradient(0deg,#999 0 1px,#eee 1px 3px)" }} />

      <div style={{ position: "absolute", right: 60, top: 23, textAlign: "right", fontSize: 11.5, lineHeight: "12px" }}>
        {legendRows.map(([text, color]) => (
          <div key={text} style={{ color, whiteSpace: "nowrap" }}>
            {text}
          </div>
        ))}
      </div>
      {fixedText(2320, -6, "HC:-91,47", "#2a5ab0")}

      <div style={{ position: "absolute", left: 21, top: 853, width: 5, height: 5, border: "1px solid #777", background: "#aaa" }} />
      {fixedText(31, 850, "거래량", "#3a9a8a")}
      {fixedText(75, 850, "단순 5", "#c832c8")}
      {fixedText(117, 850, "20", "#e3a428")}
      {fixedText(137, 850, "60", "#2a8a3a")}
      {fixedText(158, 850, "120", "#808080")}
      {fixedText(21, 863, "467,552주(139,10%)", "#333")}

      <div style={{ position: "absolute", left: 2324, top: 788, width: 50, height: 13, background: "#e3201a", color: "#fff", fontSize: 12, lineHeight: "13px", paddingLeft: 4, boxSizing: "border-box" }}>1,440</div>
      {fixedText(2327, 801, "4,35%", "#d83030")}
      <div style={{ position: "absolute", left: 2324, top: 1046, width: 50, height: 12, background: "#e3201a", color: "#fff", fontSize: 12, lineHeight: "12px", paddingLeft: 2, boxSizing: "border-box" }}>467,552</div>
      {fixedText(2327, 1058, "139,10%", "#d83030")}
      {fixedText(2326, 1071, "09/07", "#555")}
    </div>
  );
}
